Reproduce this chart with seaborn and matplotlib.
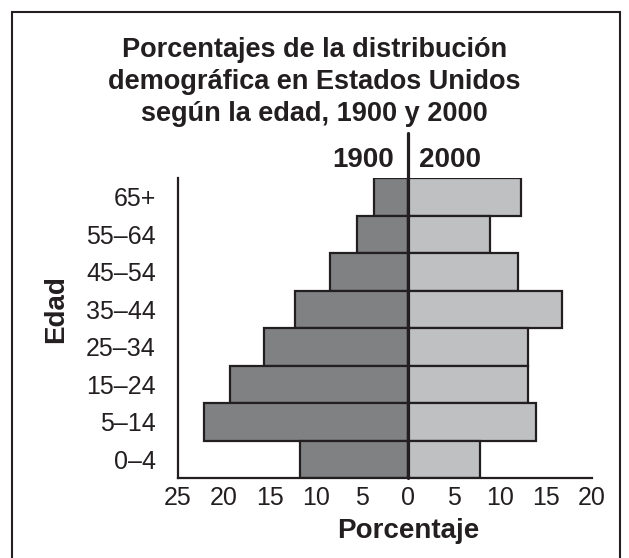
import pandas as pd
import matplotlib.pyplot as plt
import seaborn as sns
from matplotlib.patches import Rectangle

# Age groups, top to bottom
age_groups = ['65+', '55–64', '45–54', '35–44', '25–34', '15–24', '5–14', '0–4']
pct_1900 = [3.7, 5.5, 8.5, 12.3, 15.6, 19.3, 22.2, 11.7]
pct_2000 = [12.3, 8.9, 12.0, 16.7, 13.0, 13.0, 13.9, 7.8]
x_ticks = [-25, -20, -15, -10, -5, 0, 5, 10, 15, 20]
x_tick_labels = ['25', '20', '15', '10', '5', '0', '5', '10', '15', '20']

sns.set_style('white')
plt.rcParams['font.family'] = ['Liberation Sans', 'DejaVu Sans']

dark = '#231f20'
df = pd.DataFrame({
    'Edad': age_groups * 2,
    'Porcentaje': [-v for v in pct_1900] + pct_2000,
    'Año': ['1900'] * len(age_groups) + ['2000'] * len(age_groups),
})

fig = plt.figure(figsize=(6.29, 5.58), dpi=100)
ax = fig.add_axes([178 / 629, 80 / 558, 414 / 629, 300 / 558])

sns.barplot(data=df, x='Porcentaje', y='Edad', hue='Año', order=age_groups,
            palette={'1900': '#808183', '2000': '#bfc0c2'}, orient='h',
            width=1, dodge=False, legend=False, edgecolor=dark, linewidth=1.6,
            errorbar=None, ax=ax)

ax.set_xlim(-25, 20)
ax.set_ylim(len(age_groups) - 0.5, -0.5)
ax.set_xticks(x_ticks)
ax.set_xticklabels(x_tick_labels, fontsize=18, color=dark)
ax.tick_params(axis='y', labelsize=18, labelcolor=dark, length=0, pad=16)
ax.tick_params(axis='x', length=0, pad=6)

for side in ['top', 'right']:
    ax.spines[side].set_visible(False)
for side in ['left', 'bottom']:
    ax.spines[side].set_linewidth(1.6)
    ax.spines[side].set_color(dark)

ax.set_xlabel('Porcentaje', fontsize=20, fontweight='bold', color=dark)
ax.xaxis.set_label_coords(25 / 45, -0.135)
ax.xaxis.label.set_va('top')
ax.set_ylabel('Edad', fontsize=20, fontweight='bold', color=dark)
ax.yaxis.label.set_va('center')
ax.yaxis.set_label_coords(-0.295, 0.563)

# center divider that rises above the plot
ax.plot([0, 0], [0, 1.15], transform=ax.get_xaxis_transform(), color=dark,
        linewidth=2.3, clip_on=False, zorder=5)
ax.text(-1.5, 1.06, '1900', transform=ax.get_xaxis_transform(), ha='right',
        va='center', fontsize=20, fontweight='bold', color=dark)
ax.text(1.2, 1.06, '2000', transform=ax.get_xaxis_transform(), ha='left',
        va='center', fontsize=20, fontweight='bold', color=dark)

fig.text(0.5, 1 - 82 / 558,
         'Porcentajes de la distribución\ndemográfica en Estados Unidos\nsegún la edad, 1900 y 2000',
         ha='center', va='center', fontsize=19.5, fontweight='bold', color=dark,
         linespacing=1.3)

# outer frame
fig.patches.append(Rectangle((12 / 629, -0.05), 608 / 629, 1 - 12 / 558 + 0.05,
                             transform=fig.transFigure, fill=False,
                             edgecolor=dark, linewidth=1.5))

fig.savefig('out.png', dpi=100)
